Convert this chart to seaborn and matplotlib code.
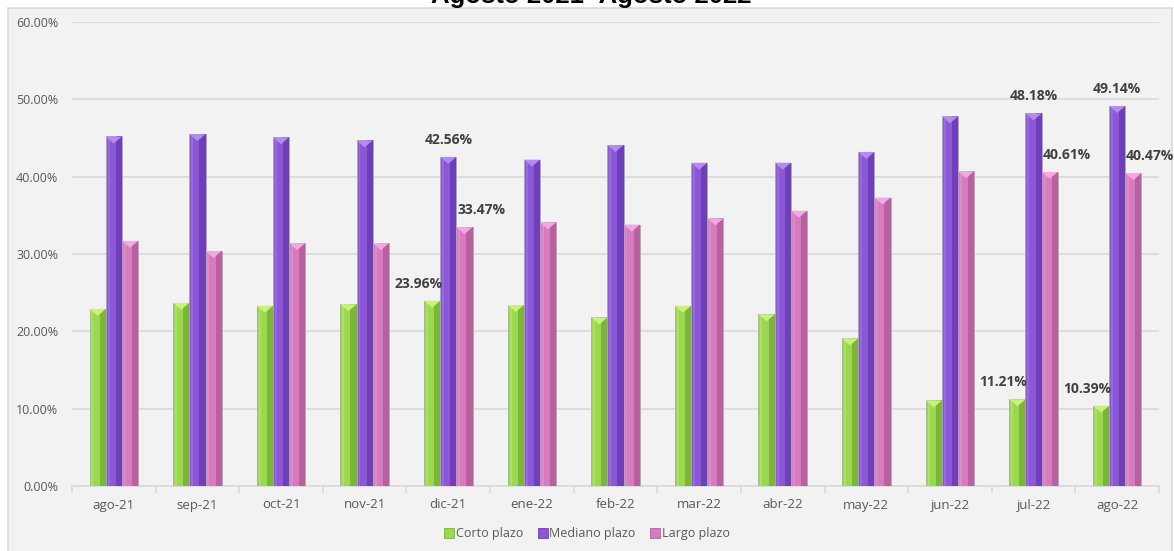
import pandas as pd
import numpy as np
import matplotlib
matplotlib.use("Agg")
import matplotlib.pyplot as plt
import seaborn as sns
from matplotlib.patches import Rectangle, Polygon
from matplotlib.lines import Line2D

# data
meses = ["ago-21", "sep-21", "oct-21", "nov-21", "dic-21", "ene-22", "feb-22",
         "mar-22", "abr-22", "may-22", "jun-22", "jul-22", "ago-22"]
corto = [22.9, 23.7, 23.3, 23.5, 23.96, 23.4, 21.8, 23.3, 22.2, 19.1, 11.06, 11.21, 10.39]
mediano = [45.2, 45.5, 45.1, 44.7, 42.56, 42.2, 44.1, 41.8, 41.8, 43.2, 47.8, 48.18, 49.14]
largo = [31.7, 30.4, 31.4, 31.4, 33.47, 34.1, 33.8, 34.6, 35.6, 37.3, 40.7, 40.61, 40.47]
series = ["Corto plazo", "Mediano plazo", "Largo plazo"]
# months whose values are labelled in the chart
meses_etiqueta = ["dic-21", "jul-22", "ago-22"]

colores = ["#9ad84f", "#8a58d6", "#d77bbf"]
oscuros = ["#7db53a", "#6e3fb8", "#b9609f"]
claros = ["#c8f27a", "#b48cf0", "#f3a8e3"]

df = pd.DataFrame({
    "mes": meses * 3,
    "plazo": [series[0]] * 13 + [series[1]] * 13 + [series[2]] * 13,
    "valor": [v / 100 for v in corto + mediano + largo],
})

W, H = 1174, 551
fig = plt.figure(figsize=(W / 100, H / 100), dpi=100)
fig.patch.set_facecolor("white")
fig.patches.append(Rectangle((8 / W, -0.01), (1172 - 8) / W, 1 - 8 / H + 0.01,
                             transform=fig.transFigure, facecolor="#f2f2f2",
                             edgecolor="#d9d9d9", lw=1.2, zorder=-5))
# title is clipped by the top edge in the original too
fig.text(591 / W, 1 - 3 / H, "Agosto 2021- Agosto 2022", ha="center", va="baseline",
         fontsize=18.5, fontweight="bold", family="Liberation Sans", color="black")

ax = fig.add_axes([72 / W, 1 - 486 / H, (1159 - 72) / W, (486 - 22) / H])
ax.set_facecolor("none")
sns.barplot(data=df, x="mes", y="valor", hue="plazo", palette=colores, saturation=1,
            width=0.58, ax=ax, legend=False, zorder=3)

ax.set_ylim(0, 0.6)
ax.set_xlim(-0.5, len(meses) - 0.5)
ax.set_yticks(np.arange(0, 0.61, 0.1))
ax.set_yticklabels([f"{t * 100:.2f}%" for t in np.arange(0, 0.61, 0.1)])
ax.grid(axis="y", color="#d9d9d9", lw=1.2, zorder=0)
ax.set_axisbelow(True)
for s in ["top", "right", "left"]:
    ax.spines[s].set_visible(False)
ax.spines["bottom"].set_color("#d9d9d9")
ax.spines["bottom"].set_linewidth(1.2)
ax.set_xlabel("")
ax.set_ylabel("")
ax.tick_params(axis="y", length=0, pad=10, labelsize=9, labelcolor="#595959")
ax.tick_params(axis="x", length=0, pad=9, labelsize=9.5, labelcolor="#595959")
ax.set_xticks(np.arange(-0.5, len(meses), 1), minor=True)
ax.tick_params(axis="x", which="minor", length=5, color="#d9d9d9", width=1.2)
for lab in ax.get_xticklabels() + ax.get_yticklabels():
    lab.set_family("Open Sans")

# bevel look of the Excel bars
dy = 0.6 * 7 / 464
for k, cont in enumerate(ax.containers):
    for p in cont.patches:
        x0, w, h = p.get_x(), p.get_width(), p.get_height()
        p.set_edgecolor("#a9a9a9")
        p.set_linewidth(0.6)
        ax.add_patch(Rectangle((x0 + w * 0.62, 0), w * 0.38, h, facecolor=oscuros[k],
                               edgecolor="none", zorder=3.5))
        ax.add_patch(Rectangle((x0 + w * 0.12, 0), w * 0.12, h, facecolor=claros[k],
                               edgecolor="none", alpha=0.35, zorder=3.5))
        ax.add_patch(Polygon([(x0, h), (x0 + w, h), (x0 + w / 2, h - dy)], closed=True,
                             facecolor=claros[k], edgecolor="none", zorder=3.6))

# data labels
offsets = [-14, 0, 17]
for k, cont in enumerate(ax.containers):
    for i, p in enumerate(cont.patches):
        if meses[i] not in meses_etiqueta:
            continue
        h = p.get_height()
        ax.annotate(f"{h * 100:.2f}%", (p.get_x() + p.get_width() / 2, h),
                    xytext=(offsets[k], 17), textcoords="offset pixels",
                    ha="center", va="center", fontsize=10, fontweight="bold",
                    color="#404040", family="Open Sans", zorder=5)

handles = [Line2D([], [], marker="s", ls="", markersize=7, markerfacecolor=c,
                  markeredgecolor=o, markeredgewidth=0.6) for c, o in zip(colores, oscuros)]
leg = fig.legend(handles, series, loc="center", bbox_to_anchor=(0.5, 1 - 534 / H), ncol=3,
                 frameon=False, handlelength=0.8, handletextpad=0.1, columnspacing=1.2,
                 prop={"family": "Open Sans", "size": 9})
for t in leg.get_texts():
    t.set_color("#595959")

fig.savefig("out.png", dpi=100)
